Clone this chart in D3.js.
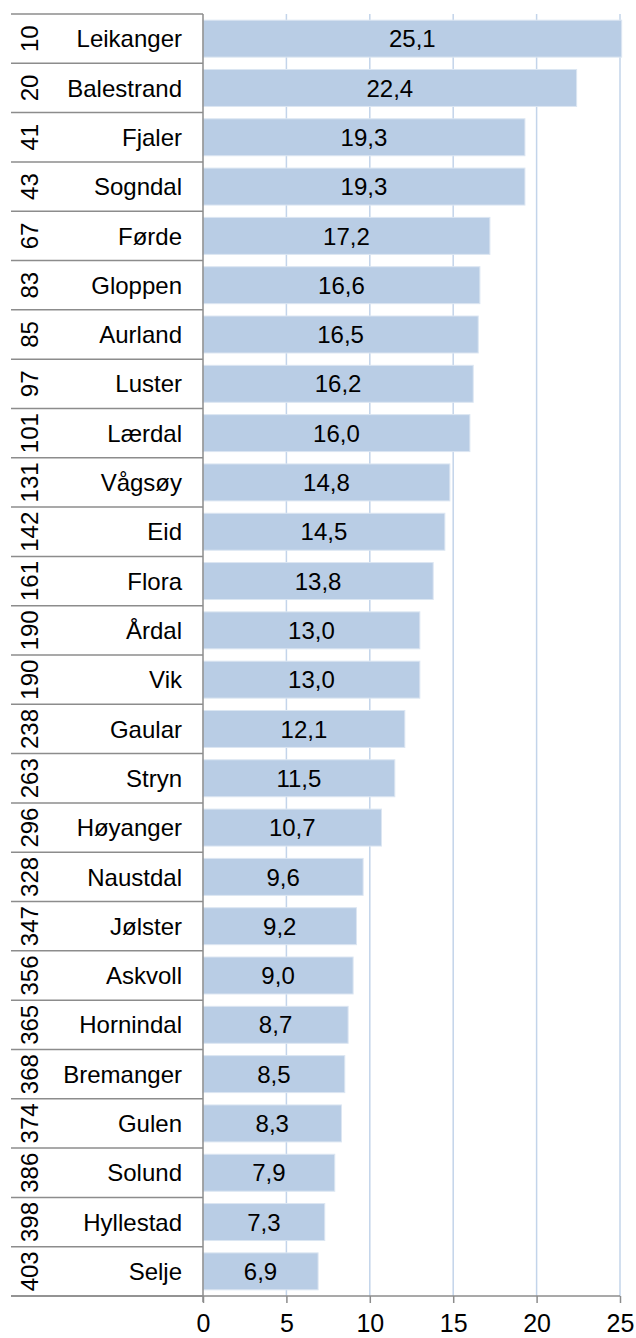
<!DOCTYPE html>
<html>
<head>
<meta charset="utf-8">
<script src="https://cdn.jsdelivr.net/npm/d3@7"></script>
<style>
  body { margin: 0; background: #fff; }
  text { font-family: "Liberation Sans", Arial, sans-serif; fill: #000; }
</style>
</head>
<body>
<svg id="chart" width="636" height="1338"></svg>
<script>
var ranks = [10, 20, 41, 43, 67, 83, 85, 97, 101, 131, 142, 161, 190, 190, 238, 263, 296, 328, 347, 356, 365, 368, 374, 386, 398, 403];
var names = ['Leikanger', 'Balestrand', 'Fjaler', 'Sogndal', 'Førde', 'Gloppen', 'Aurland', 'Luster', 'Lærdal', 'Vågsøy', 'Eid', 'Flora', 'Årdal', 'Vik', 'Gaular', 'Stryn', 'Høyanger', 'Naustdal', 'Jølster', 'Askvoll', 'Hornindal', 'Bremanger', 'Gulen', 'Solund', 'Hyllestad', 'Selje'];
var values = [25.1, 22.4, 19.3, 19.3, 17.2, 16.6, 16.5, 16.2, 16.0, 14.8, 14.5, 13.8, 13.0, 13.0, 12.1, 11.5, 10.7, 9.6, 9.2, 9.0, 8.7, 8.5, 8.3, 7.9, 7.3, 6.9];
var ticks = [0, 5, 10, 15, 20, 25];

(function() {
    var svg = d3.select('#chart');
    var plotLeft = 203, plotRight = 620, plotTop = 14, plotBottom = 1296, tableLeft = 11;
    var fontSize = '24px';

    var x = d3.scaleLinear().domain([0, 25]).range([plotLeft, plotRight]);
    var y = d3.scaleBand().domain(d3.range(names.length)).range([plotTop, plotBottom]).paddingInner(0.25).paddingOuter(0.125);
    var step = y.step();
    var fmt = function(v) { return v.toFixed(1).replace('.', ','); };

    // gridlines
    svg.append('g').selectAll('line')
        .data(ticks.slice(1))
        .enter().append('line')
        .attr('x1', function(d) { return x(d); })
        .attr('x2', function(d) { return x(d); })
        .attr('y1', plotTop)
        .attr('y2', plotBottom)
        .attr('stroke', '#c3d4ea')
        .attr('stroke-width', 1.5);

    // bars
    svg.append('g').selectAll('rect')
        .data(values)
        .enter().append('rect')
        .attr('x', x(0))
        .attr('y', function(d, i) { return y(i); })
        .attr('width', function(d) { return x(d) - x(0); })
        .attr('height', y.bandwidth())
        .attr('fill', '#b9cde5')
        .attr('stroke', '#dce6f2')
        .attr('stroke-width', 1);

    // value labels
    svg.append('g').selectAll('text')
        .data(values)
        .enter().append('text')
        .attr('x', function(d) { return (x(0) + x(d)) / 2; })
        .attr('y', function(d, i) { return y(i) + y.bandwidth() / 2; })
        .attr('dy', '0.36em')
        .attr('text-anchor', 'middle')
        .style('font-size', fontSize)
        .text(fmt);

    // table row separators
    svg.append('g').selectAll('line')
        .data(d3.range(names.length + 1))
        .enter().append('line')
        .attr('x1', tableLeft)
        .attr('x2', plotLeft)
        .attr('y1', function(d) { return plotTop + d * step; })
        .attr('y2', function(d) { return plotTop + d * step; })
        .attr('stroke', '#8c8c8c')
        .attr('stroke-width', 1.5);

    // names
    svg.append('g').selectAll('text')
        .data(names)
        .enter().append('text')
        .attr('x', 182)
        .attr('y', function(d, i) { return plotTop + (i + 0.5) * step; })
        .attr('dy', '0.36em')
        .attr('text-anchor', 'end')
        .style('font-size', fontSize)
        .text(function(d) { return d; });

    // ranks (rotated)
    svg.append('g').selectAll('text')
        .data(ranks)
        .enter().append('text')
        .attr('transform', function(d, i) {
            return 'translate(29,' + (plotTop + (i + 0.5) * step) + ') rotate(-90)';
        })
        .attr('dy', '0.36em')
        .attr('text-anchor', 'middle')
        .style('font-size', fontSize)
        .text(function(d) { return d; });

    // vertical axis line
    svg.append('line')
        .attr('x1', plotLeft).attr('x2', plotLeft)
        .attr('y1', plotTop).attr('y2', plotBottom + 6)
        .attr('stroke', '#8c8c8c')
        .attr('stroke-width', 1.5);

    // x axis
    var xAxis = svg.append('g')
        .attr('transform', 'translate(0,' + plotBottom + ')')
        .call(d3.axisBottom(x).tickValues(ticks).tickSize(7).tickPadding(11).tickFormat(d3.format('d')));
    xAxis.select('.domain').remove();
    xAxis.selectAll('.tick line').attr('stroke', '#8c8c8c').attr('stroke-width', 1.5);
    xAxis.selectAll('.tick text')
        .style('font-family', '"Liberation Sans", Arial, sans-serif')
        .style('font-size', '25px')
        .attr('fill', '#000');
    svg.append('line')
        .attr('x1', tableLeft).attr('x2', plotRight)
        .attr('y1', plotBottom).attr('y2', plotBottom)
        .attr('stroke', '#8c8c8c')
        .attr('stroke-width', 1.5);
})();
</script>
</body>
</html>
